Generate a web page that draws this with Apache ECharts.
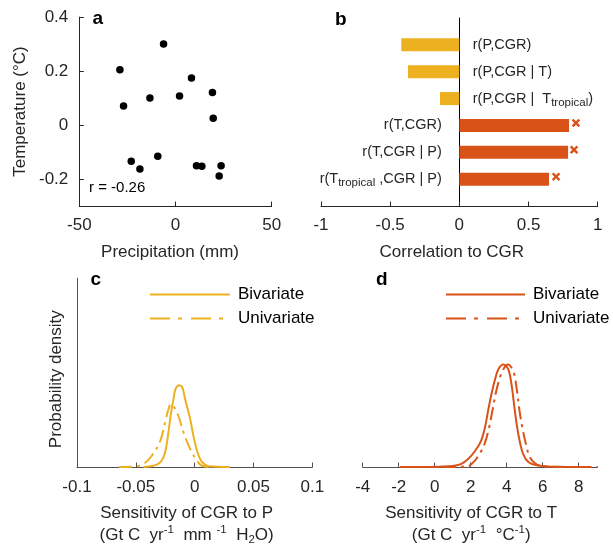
<!DOCTYPE html>
<html><head><meta charset="utf-8">
<script src="https://cdn.jsdelivr.net/npm/echarts@6/dist/echarts.min.js"></script>
<style>html,body{margin:0;padding:0;background:#fff}#c{width:613px;height:552px}</style>
</head><body><div id="c"></div>
<script>
// ---- Panel a: scatter ----
const precip = [-28.9, -6.2, -27.0, -13.3, 8.3, 2.1, 19.2, 19.6, -23.0, -18.5, -9.2, 10.9, 13.7, 23.7, 22.7];
const temp   = [0.205, 0.300, 0.071, 0.100, 0.174, 0.108, 0.121, 0.025, -0.134, -0.163, -0.116, -0.151, -0.153, -0.151, -0.189];
const tempTicks = [-0.2, 0, 0.2, 0.4];
const rText = 'r = -0.26';

// ---- Panel b: correlations ----
const corrKeys = ['P', 'P|T', 'P|Ttrop', 'T', 'T|P', 'Ttrop|P'];
const corrLabels = ['{n|r(P,CGR)}', '{n|r(P,CGR | T)}', '{n|r(P,CGR |  T}{s|tropical}{n|)}',
                    '{n|r(T,CGR)}', '{n|r(T,CGR | P)}', '{n|r(T}{s|tropical}{n| ,CGR | P)}'];
const corrValues = [-0.42, -0.371, -0.14, 0.793, 0.786, 0.648];
const corrGroup = ['P', 'P', 'P', 'T', 'T', 'T'];
const signifIndex = [3, 4, 5];
const signifX = [0.843, 0.829, 0.699];

// ---- Panel c: sensitivity to P ----
const cBiX = [-0.0435, -0.035, -0.0299, -0.0265, -0.0242, -0.0223, -0.0200, -0.0180, -0.0163, -0.0132, -0.0106, -0.0081, -0.0038, -0.0010, 0.0024, 0.0061, 0.0117, 0.030];
const cBiY = [0, 0.7, 2.2, 5.3, 10.8, 19.1, 30.1, 37.4, 42.9, 45.1, 44.0, 37.4, 26.4, 17.1, 8.1, 2.9, 0.4, 0];
const cUniX = [-0.0642, -0.0523, -0.0435, -0.0364, -0.0293, -0.0251, -0.0225, -0.0200, -0.0174, -0.0138, -0.0095, -0.0038, 0.0019, 0.0061, 0.0132];
const cUniY = [0, 0.2, 1.7, 6.2, 14.3, 24.6, 31.4, 34.7, 33.0, 28.1, 19.1, 9.9, 3.5, 0.7, 0];
const cTicks = [-0.1, -0.05, 0, 0.05, 0.1];

// ---- Panel d: sensitivity to T ----
const dBiX = [-1.93, -0.37, 0.76, 1.41, 1.87, 2.24, 2.57, 2.79, 2.98, 3.17, 3.35, 3.53, 3.81, 4.09, 4.28, 4.42, 4.57, 4.74, 4.92, 5.20, 5.67, 6.50, 8.29];
const dBiY = [0, 0, 0.004, 0.016, 0.050, 0.096, 0.156, 0.236, 0.346, 0.446, 0.526, 0.586, 0.616, 0.586, 0.486, 0.366, 0.246, 0.146, 0.076, 0.030, 0.010, 0.002, 0];
const dUniX = [0.46, 1.78, 2.09, 2.42, 2.76, 3.02, 3.22, 3.44, 3.72, 4.06, 4.37, 4.56, 4.70, 4.87, 5.06, 5.26, 5.57, 5.94, 6.96, 9.07];
const dUniY = [0, 0.002, 0.022, 0.066, 0.136, 0.236, 0.346, 0.466, 0.566, 0.616, 0.576, 0.466, 0.346, 0.236, 0.142, 0.066, 0.022, 0.006, 0.001, 0];
const dTicks = [-4, -2, 0, 2, 4, 6, 8];

const legendNames = ['Bivariate', 'Univariate'];

// ---- styling ----
const FONT = '"Liberation Sans", Arial, Helvetica, sans-serif';
const TXT = '#262626';
const AX = '#262626';
const AX2 = '#505050';
const YEL = '#EDB120', ORA = '#D95319';
const DASHDOT = [13, 5, 3, 5];
const DASHDOT_LEG = [20, 8, 4, 9];

const zip = (xs, ys) => xs.map((x, i) => [x, ys[i]]);

function valAxis(grid, color, extra) {
  return Object.assign({
    gridIndex: grid, type: 'value',
    axisLine: { show: true, onZero: false, lineStyle: { color: color, width: 1 } },
    axisTick: { show: true, inside: true, length: 4.5, lineStyle: { color: color } },
    axisLabel: { color: TXT, fontSize: 17, fontFamily: FONT, margin: 12 },
    splitLine: { show: false },
    nameLocation: 'middle',
    nameTextStyle: { color: TXT, fontSize: 17, fontFamily: FONT }
  }, extra);
}

const richTitle = {
  t: { fontSize: 17, lineHeight: 22, fontFamily: FONT, color: TXT },
  sup: { fontSize: 11.5, lineHeight: 8, fontFamily: FONT, color: TXT, verticalAlign: 'top' },
  sub: { fontSize: 11.5, lineHeight: 6, fontFamily: FONT, color: TXT, verticalAlign: 'bottom' }
};
const richBar = {
  n: { fontSize: 14.5, lineHeight: 20, fontFamily: FONT, color: TXT },
  s: { fontSize: 11.5, lineHeight: 8, fontFamily: FONT, color: TXT, verticalAlign: 'bottom' }
};

const catData = [''].concat(corrKeys).concat([' ']);
const pData = catData.map((c, i) => (i >= 1 && i <= 6 && corrGroup[i - 1] === 'P') ? corrValues[i - 1] : '-');
const tData = catData.map((c, i) => (i >= 1 && i <= 6 && corrGroup[i - 1] === 'T') ? corrValues[i - 1] : '-');

const legendCommon = {
  orient: 'vertical', top: 286, itemHeight: 14, itemGap: 7, padding: 0,
  itemStyle: { opacity: 0 },
  textStyle: { fontSize: 17, fontFamily: FONT, color: '#000', padding: [0, 0, 0, 3] },
  selectedMode: false
};

const option = {
  animation: false,
  backgroundColor: '#fff',
  textStyle: { fontFamily: FONT },
  grid: [
    { left: 79.3, top: 17.1, width: 192.4, height: 188.9 },
    { left: 321, top: 18, width: 276.7, height: 188 },
    { left: 77, top: 278.3, width: 235.3, height: 188.7 },
    { left: 362.7, top: 278.3, width: 234, height: 188.7 }
  ],
  xAxis: [
    valAxis(0, AX, { min: -50, max: 50, interval: 50, name: 'Precipitation (mm)', nameGap: 38,
      axisLabel: { color: TXT, fontSize: 17, fontFamily: FONT, margin: 11 },
      nameTextStyle: { color: TXT, fontSize: 17, fontFamily: FONT, padding: [0, 11, 0, 0] } }),
    valAxis(1, AX, { min: -1, max: 1, interval: 0.5, name: 'Correlation to CGR', nameGap: 38,
      axisLabel: { color: TXT, fontSize: 17, fontFamily: FONT, margin: 11 },
      nameTextStyle: { color: TXT, fontSize: 17, fontFamily: FONT, padding: [0, 15, 0, 0] } }),
    valAxis(2, AX2, { min: -0.1, max: 0.1, interval: 0.05,
      name: '{t|Sensitivity of CGR to P}\n{t|(Gt C  yr}{sup|-1}{t|  mm }{sup|-1}{t|  H}{sub|2}{t|O)}',
      nameGap: 35,
      axisLabel: { color: TXT, fontSize: 17, fontFamily: FONT, margin: 12, customValues: cTicks },
      axisTick: { show: true, inside: true, length: 4.5, lineStyle: { color: AX2 }, customValues: cTicks },
      nameTextStyle: { rich: richTitle, padding: [0, 16, 0, 0] } }),
    valAxis(3, AX2, { min: -4, max: 9, interval: 2,
      name: '{t|Sensitivity of CGR to T}\n{t|(Gt C  yr}{sup|-1}{t|  °C}{sup|-1}{t|)}',
      nameGap: 35,
      axisLabel: { color: TXT, fontSize: 17, fontFamily: FONT, margin: 12, customValues: dTicks },
      axisTick: { show: true, inside: true, length: 4.5, lineStyle: { color: AX2 }, customValues: dTicks },
      nameTextStyle: { rich: richTitle, padding: [0, 17, 0, 0] } })
  ],
  yAxis: [
    valAxis(0, AX, { min: -0.3, max: 0.4, interval: 0.1, name: 'Temperature (°C)', nameGap: 50,
      axisLabel: { color: TXT, fontSize: 17, fontFamily: FONT, margin: 11, customValues: tempTicks },
      axisTick: { show: true, inside: true, length: 4.5, lineStyle: { color: AX }, customValues: tempTicks } }),
    { gridIndex: 1, type: 'category', data: catData, inverse: true, boundaryGap: false,
      axisLine: { show: true, onZero: true, lineStyle: { color: '#000', width: 1 } },
      axisTick: { show: false }, axisLabel: { show: false }, splitLine: { show: false } },
    valAxis(2, AX2, { min: 0, max: 104, name: 'Probability density', nameGap: 12,
      axisTick: { show: false }, axisLabel: { show: false },
      nameTextStyle: { color: TXT, fontSize: 17, fontFamily: FONT, padding: [0, 13, 0, 0] } }),
    { gridIndex: 3, type: 'value', min: 0, max: 1.134, show: false, splitLine: { show: false } }
  ],
  legend: [
    Object.assign({}, legendCommon, { left: 149, itemWidth: 80,
      data: [{ name: legendNames[0] }, { name: legendNames[1], lineStyle: { type: DASHDOT_LEG } }] }),
    Object.assign({}, legendCommon, { left: 445, itemWidth: 79,
      data: [{ name: legendNames[0] + ' (T)' }, { name: legendNames[1] + ' (T)', lineStyle: { type: DASHDOT_LEG } }],
      formatter: n => n.replace(' (T)', '') })
  ],
  series: [
    { type: 'scatter', xAxisIndex: 0, yAxisIndex: 0, data: zip(precip, temp),
      symbol: 'circle', symbolSize: 7.5, itemStyle: { color: '#000', opacity: 1 } },
    { type: 'bar', name: 'P bars', xAxisIndex: 1, yAxisIndex: 1, data: pData, barWidth: 13, barGap: '-100%',
      itemStyle: { color: YEL },
      label: { show: true, position: 'right', distance: 13.4, rich: richBar,
        formatter: p => corrLabels[p.dataIndex - 1] } },
    { type: 'bar', name: 'T bars', xAxisIndex: 1, yAxisIndex: 1, data: tData, barWidth: 13, barGap: '-100%',
      itemStyle: { color: ORA },
      label: { show: true, position: 'left', distance: 17.5, rich: richBar,
        formatter: p => corrLabels[p.dataIndex - 1] } },
    { type: 'scatter', xAxisIndex: 1, yAxisIndex: 1,
      data: signifIndex.map((ci, i) => [signifX[i], ci + 1]),
      symbol: 'path://M2,0 L5,3 L8,0 L10,2 L7,5 L10,8 L8,10 L5,7 L2,10 L0,8 L3,5 L0,2 Z',
      symbolSize: 8.5, symbolOffset: [0, -2.5], itemStyle: { color: ORA, opacity: 1 } },
    { type: 'line', name: legendNames[0], xAxisIndex: 2, yAxisIndex: 2, data: zip(cBiX, cBiY),
      symbol: 'none', smooth: 0.35, lineStyle: { color: YEL, width: 2 }, itemStyle: { color: YEL } },
    { type: 'line', name: legendNames[1], xAxisIndex: 2, yAxisIndex: 2, data: zip(cUniX, cUniY),
      symbol: 'none', smooth: 0.35, lineStyle: { color: YEL, width: 2, type: DASHDOT }, itemStyle: { color: YEL } },
    { type: 'line', name: legendNames[0] + ' (T)', xAxisIndex: 3, yAxisIndex: 3, data: zip(dBiX, dBiY),
      symbol: 'none', smooth: 0.35, lineStyle: { color: ORA, width: 2 }, itemStyle: { color: ORA } },
    { type: 'line', name: legendNames[1] + ' (T)', xAxisIndex: 3, yAxisIndex: 3, data: zip(dUniX, dUniY),
      symbol: 'none', smooth: 0.35, lineStyle: { color: ORA, width: 2, type: DASHDOT }, itemStyle: { color: ORA } }
  ],
  graphic: [
    { type: 'text', x: 92.5, y: 18.8, style: { text: 'a', font: 'bold 19px ' + FONT, fill: '#000', verticalAlign: 'middle' } },
    { type: 'text', x: 335, y: 19.7, style: { text: 'b', font: 'bold 19px ' + FONT, fill: '#000', verticalAlign: 'middle' } },
    { type: 'text', x: 90.5, y: 279.6, style: { text: 'c', font: 'bold 19px ' + FONT, fill: '#000', verticalAlign: 'middle' } },
    { type: 'text', x: 376, y: 280, style: { text: 'd', font: 'bold 19px ' + FONT, fill: '#000', verticalAlign: 'middle' } },
    { type: 'text', x: 89, y: 187.7, style: { text: rText, font: '15px ' + FONT, fill: '#000', verticalAlign: 'middle' } }
  ]
};

const chart = echarts.init(document.getElementById('c'), null, { renderer: 'canvas' });
chart.setOption(option);
</script>
</body></html>
